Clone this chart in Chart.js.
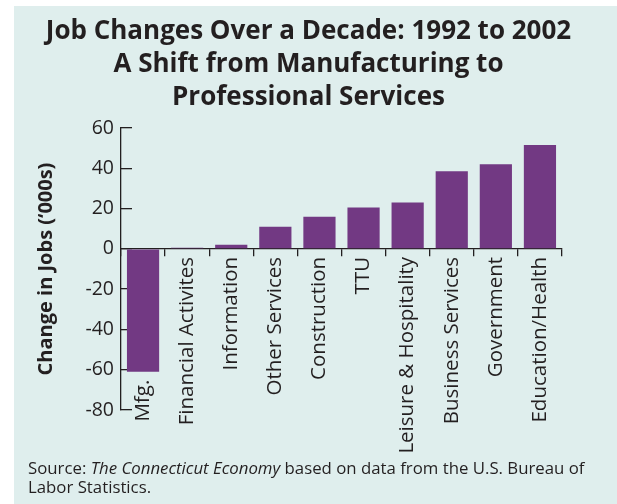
<!DOCTYPE html>
<html>
<head>
<meta charset="utf-8">
<script src="https://cdn.jsdelivr.net/npm/chart.js@4/dist/chart.umd.min.js"></script>
<style>
  html, body { margin: 0; padding: 0; background: #ffffff; }
  #page { position: relative; width: 617px; height: 504px; overflow: hidden; }
  #panel { position: absolute; left: 14px; top: 6px; width: 603px; height: 498px; background: #dfeeed; }
  #chartBox { position: absolute; left: 14px; top: 6px; width: 603px; height: 498px; }
  #title {
    position: absolute; left: 0; top: 13px; width: 617px; text-align: center;
    font-family: "Open Sans", sans-serif; font-weight: 700; font-size: 26px;
    line-height: 33px; color: #231f20;
  }
  #source {
    position: absolute; left: 28px; top: 458px; width: 589px;
    font-family: "Open Sans", sans-serif; font-size: 16.8px;
    line-height: 19px; color: #231f20; white-space: nowrap;
  }
</style>
</head>
<body>
<div id="page">
  <div id="panel"></div>
  <div id="chartBox"><canvas id="jobsChart"></canvas></div>
  <div id="title">Job Changes Over a Decade: 1992 to 2002<br>A Shift from Manufacturing to<br>Professional Services</div>
  <div id="source">Source: <i>The Connecticut Economy</i> based on data from the U.S. Bureau of<br>Labor Statistics.</div>
</div>
<script>
// Secteurs et variation d'emplois (milliers), 1992-2002
var sectors = ["Mfg.", "Financial Activites", "Information", "Other Services", "Construction",
  "TTU", "Leisure & Hospitality", "Business Services", "Government", "Education/Health"];
var jobChange = [-61, 0.5, 2, 11, 16, 20.5, 23, 38.5, 42, 51.5];
var yTicks = [60, 40, 20, 0, -20, -40, -60, -80];

var textColor = "#231f20";

// Étiquettes verticales sous chaque barre : sous l'axe zéro,
// ou sous le bas de la barre quand la valeur est négative
var sectorLabels = {
  id: "sectorLabels",
  afterDraw: function(chart) {
    var ctx = chart.ctx;
    var x = chart.scales.x;
    var y = chart.scales.y;
    ctx.save();
    ctx.font = "20.5px 'Open Sans', sans-serif";
    ctx.fillStyle = textColor;
    ctx.textAlign = "right";
    ctx.textBaseline = "middle";
    sectors.forEach(function(label, i) {
      var px = x.getPixelForValue(i);
      var py = y.getPixelForValue(Math.min(0, jobChange[i])) + 8;
      ctx.save();
      ctx.translate(px, py);
      ctx.rotate(-Math.PI / 2);
      ctx.fillText(label, 0, 0);
      ctx.restore();
    });
    ctx.restore();
  }
};

new Chart(document.getElementById("jobsChart"), {
  type: "bar",
  data: {
    labels: sectors,
    datasets: [{
      data: jobChange,
      backgroundColor: "#723983",
      borderWidth: 0,
      categoryPercentage: 1,
      barPercentage: 0.73
    }]
  },
  options: {
    responsive: true,
    maintainAspectRatio: false,
    animation: false,
    layout: { padding: { top: 122, bottom: 94, right: 55, left: 0 } },
    plugins: { legend: { display: false }, tooltip: { enabled: false } },
    scales: {
      x: {
        position: { y: 0 },
        grid: { drawOnChartArea: false, drawTicks: true, tickLength: 7, offset: true, color: "#231f20", lineWidth: 1.3 },
        border: { display: true, color: "#231f20", width: 1.3 },
        ticks: { display: false }
      },
      y: {
        min: -80,
        max: 60,
        afterBuildTicks: function(scale) {
          scale.ticks = yTicks.map(function(v) { return { value: v }; });
        },
        afterFit: function(scale) { scale.width = 107; },
        grid: { drawOnChartArea: false, drawTicks: true, tickLength: -11, color: "#231f20", lineWidth: 1.3 },
        border: { display: true, color: "#231f20", width: 1.3 },
        ticks: {
          padding: 18,
          color: textColor,
          font: { family: "'Open Sans', sans-serif", size: 19.5 }
        },
        title: {
          display: true,
          text: "Change in Jobs (\u2018000s)",
          color: textColor,
          font: { family: "'Open Sans', sans-serif", size: 20, weight: "bold" },
          padding: { top: 20, bottom: 0 }
        }
      }
    }
  },
  plugins: [sectorLabels]
});
</script>
</body>
</html>
